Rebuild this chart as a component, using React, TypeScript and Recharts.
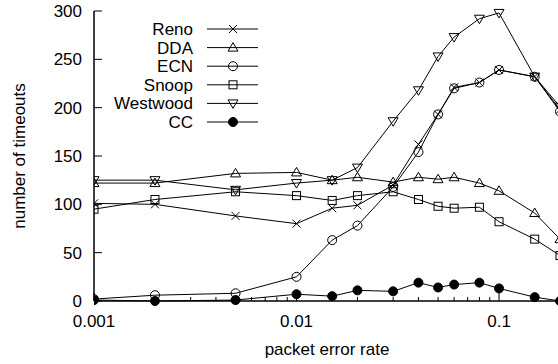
import React from 'react';
import { LineChart, Line, XAxis, YAxis } from 'recharts';

// packet error rates used on the x axis
const errorRates = [0.001, 0.002, 0.005, 0.01, 0.015, 0.02, 0.03, 0.04, 0.05, 0.06, 0.08, 0.1, 0.15, 0.2];

// number of timeouts per protocol
const reno = [101, 100, 88, 80, 96, 99, 120, 162, 193, 221, 226, 239, 232, 198];
const dda = [122, 122, 132, 133, 125, 128, 123, 128, 126, 128, 122, 114, 91, 64];
const ecn = [2, 6, 8, 25, 63, 78, 118, 154, 193, 220, 226, 239, 232, 196];
const snoop = [95, 105, 113, 109, 104, 109, 113, 105, 98, 96, 97, 82, 64, 47];
const westwood = [125, 125, 115, 122, 125, 138, 186, 218, 253, 273, 292, 298, 232, 201];
const cc = [1, 0, 1, 7, 5, 11, 10, 19, 14, 17, 19, 13, 4, 0];

const yTicks = [0, 50, 100, 150, 200, 250, 300];
const xMajor = [0.001, 0.01, 0.1];
const xTicks = [
  0.001, 0.002, 0.003, 0.004, 0.005, 0.006, 0.007, 0.008, 0.009,
  0.01, 0.02, 0.03, 0.04, 0.05, 0.06, 0.07, 0.08, 0.09,
  0.1, 0.2,
];

type MarkerType = 'cross' | 'tri' | 'circle' | 'square' | 'triDown' | 'dot';

const series: { key: string; name: string; marker: MarkerType; values: number[] }[] = [
  { key: 'reno', name: 'Reno', marker: 'cross', values: reno },
  { key: 'dda', name: 'DDA', marker: 'tri', values: dda },
  { key: 'ecn', name: 'ECN', marker: 'circle', values: ecn },
  { key: 'snoop', name: 'Snoop', marker: 'square', values: snoop },
  { key: 'westwood', name: 'Westwood', marker: 'triDown', values: westwood },
  { key: 'cc', name: 'CC', marker: 'dot', values: cc },
];

const data = errorRates.map((rate, i) => {
  const row: Record<string, number> = { rate };
  series.forEach((s) => (row[s.key] = s.values[i]));
  return row;
});

const FONT = '"Liberation Sans", Arial, Helvetica, sans-serif';

const Marker = ({ type, cx, cy }: { type: MarkerType; cx: number; cy: number }) => {
  const st = { stroke: '#000', strokeWidth: 1, fill: 'none' };
  switch (type) {
    case 'cross':
      return <path d={`M${cx - 4},${cy - 4}L${cx + 4},${cy + 4}M${cx - 4},${cy + 4}L${cx + 4},${cy - 4}`} {...st} />;
    case 'tri':
      return <path d={`M${cx},${cy - 5}L${cx + 5},${cy + 3.5}L${cx - 5},${cy + 3.5}Z`} {...st} />;
    case 'circle':
      return <circle cx={cx} cy={cy} r={4.5} {...st} />;
    case 'square':
      return <rect x={cx - 4} y={cy - 4} width={8} height={8} {...st} />;
    case 'triDown':
      return <path d={`M${cx},${cy + 5}L${cx + 5},${cy - 3.5}L${cx - 5},${cy - 3.5}Z`} {...st} />;
    default:
      return <circle cx={cx} cy={cy} r={4.5} fill="#000" stroke="#000" />;
  }
};

const BottomTick = (props: any) => {
  const { x, y, payload } = props;
  const major = xMajor.includes(payload.value);
  return (
    <g>
      <line x1={x} x2={x} y1={y} y2={y - (major ? 8 : 4)} stroke="#000" />
      {major && (
        <text x={x} y={y + 26} textAnchor="middle" fontSize={17} fontFamily={FONT} fill="#000">
          {String(payload.value)}
        </text>
      )}
    </g>
  );
};

const TopTick = (props: any) => {
  const { x, y, payload } = props;
  const major = xMajor.includes(payload.value);
  return <line x1={x} x2={x} y1={y} y2={y + (major ? 8 : 4)} stroke="#000" />;
};

const LeftTick = (props: any) => {
  const { x, y, payload } = props;
  return (
    <g>
      <line x1={x} x2={x + 8} y1={y} y2={y} stroke="#000" />
      <text x={x - 12} y={y + 6} textAnchor="end" fontSize={17} fontFamily={FONT} fill="#000">
        {payload.value}
      </text>
    </g>
  );
};

const RightTick = (props: any) => {
  const { x, y } = props;
  return <line x1={x} x2={x - 8} y1={y} y2={y} stroke="#000" />;
};

const ChartLegend = () => (
  <svg width={270} height={140} style={{ position: 'absolute', left: 0, top: 0 }}>
    {series.map((s, i) => {
      const y = 29 + i * 18.6;
      return (
        <g key={s.key}>
          <text x={193} y={y + 6} textAnchor="end" fontSize={17} fontFamily={FONT} fill="#000">
            {s.name}
          </text>
          <line x1={207} x2={258} y1={y} y2={y} stroke="#000" />
          <Marker type={s.marker} cx={233} cy={y} />
        </g>
      );
    })}
  </svg>
);

const axisLine = { stroke: '#000', strokeWidth: 1.5 };

export default function App() {
  return (
    <div style={{ position: 'absolute', left: 0, top: 0, width: 558, height: 364, overflow: 'hidden', background: '#fff' }}>
      <LineChart width={570} height={364} data={data} margin={{ top: 11, right: 10, bottom: 33, left: 54 }}>
        <XAxis
          dataKey="rate"
          type="number"
          scale="log"
          domain={[0.001, 0.2]}
          allowDataOverflow
          ticks={xTicks}
          interval={0}
          tickLine={false}
          tickSize={0}
          tickMargin={0}
          height={30}
          axisLine={axisLine}
          tick={<BottomTick />}
          label={(p: any) => {
            const vb = p.viewBox;
            return (
              <text x={vb.x + vb.width / 2} y={vb.y + 54} textAnchor="middle" fontSize={17} fontFamily={FONT} fill="#000">
                packet error rate
              </text>
            );
          }}
        />
        <XAxis
          xAxisId="top"
          orientation="top"
          dataKey="rate"
          type="number"
          scale="log"
          domain={[0.001, 0.2]}
          allowDataOverflow
          ticks={xTicks}
          interval={0}
          tickLine={false}
          tickSize={0}
          tickMargin={0}
          height={0}
          axisLine={axisLine}
          tick={<TopTick />}
        />
        <YAxis
          type="number"
          domain={[0, 300]}
          ticks={yTicks}
          interval={0}
          width={40}
          tickLine={false}
          tickSize={0}
          tickMargin={0}
          axisLine={axisLine}
          tick={<LeftTick />}
          label={(p: any) => {
            const vb = p.viewBox;
            const cy = vb.y + vb.height / 2;
            return (
              <text x={25} y={cy} transform={`rotate(-90 25 ${cy})`} textAnchor="middle" fontSize={17} fontFamily={FONT} fill="#000">
                number of timeouts
              </text>
            );
          }}
        />
        <YAxis
          yAxisId="right"
          orientation="right"
          type="number"
          domain={[0, 300]}
          ticks={yTicks}
          interval={0}
          width={0}
          tickLine={false}
          tickSize={0}
          tickMargin={0}
          axisLine={axisLine}
          tick={<RightTick />}
        />
        {series.map((s) => (
          <Line
            key={s.key}
            dataKey={s.key}
            name={s.name}
            stroke="#000"
            strokeWidth={1}
            isAnimationActive={false}
            dot={(p: any) => (
              <g key={`${s.key}-${p.index}`}>
                <Marker type={s.marker} cx={p.cx} cy={p.cy} />
              </g>
            )}
            activeDot={false}
          />
        ))}
      </LineChart>
      <ChartLegend />
    </div>
  );
}
